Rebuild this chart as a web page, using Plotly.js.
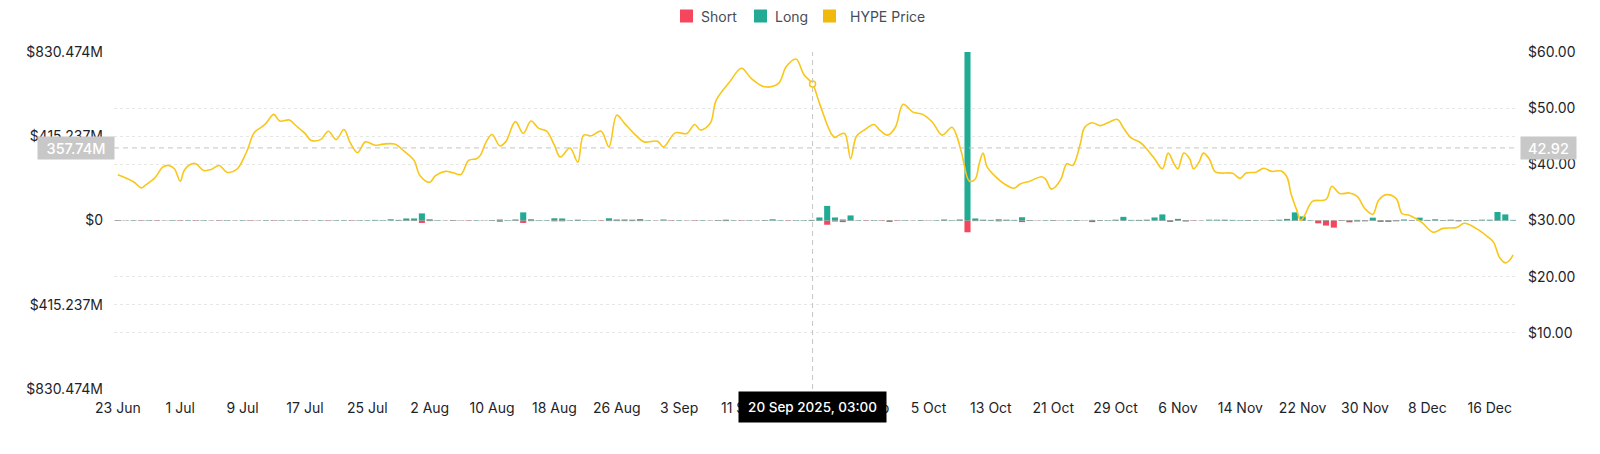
<!DOCTYPE html>
<html>
<head>
<meta charset="utf-8">
<script src="https://cdn.plot.ly/plotly-3.0.1.min.js"></script>
<style>html,body{margin:0;padding:0;background:#fff;}#chart{width:1600px;height:454px;}</style>
</head>
<body>
<div id="chart"></div>
<script>
// ---- Data ----
// Daily liquidations (millions USD), one value per day starting 23 Jun 2025
const barStart = '2025-06-23';
const longLiq = [
  2,1,2,1,2,1,1,2,1,2,
  1,2,1,1,2,1,2,1,1,2,
  1,2,1,2,1,1,2,1,2,2,
  1,2,2,3,2,6,3,10,10,35,
  6,2,1,2,1,1,2,1,2,5,
  2,5,40,6,2,2,11,10,2,4,
  2,2,1,11,5,5,4,7,2,1,
  5,1,2,1,1,2,1,2,4,2,
  1,2,1,2,6,2,1,2,2,3,
  15,72,15,5,25,2,1,2,1,2,
  1,2,1,2,1,2,5,2,5,830.474,
  10,4,3,6,4,3,16,2,1,2,
  2,1,2,2,1,3,2,2,4,18,
  3,3,4,15,30,2,8,2,1,1,
  4,4,4,3,2,2,2,1,2,4,
  8,40,20,2,1,2,1,2,2,3,
  2,14,2,2,2,5,2,14,3,6,
  2,4,2,2,2,4,4,42,30,3
];
const shortLiq = [
  2,1,1,2,1,2,1,1,2,1,
  2,1,1,2,1,1,1,2,1,1,
  2,1,1,1,2,1,1,2,1,1,
  2,1,1,1,1,1,2,2,2,12,
  3,1,1,2,1,2,1,1,2,6,
  1,2,12,3,1,1,4,4,1,2,
  1,1,2,3,3,3,3,3,1,1,
  1,2,1,1,2,1,1,2,3,1,
  2,1,1,2,1,1,2,1,1,2,
  2,21,5,8,2,1,2,1,2,7,
  2,1,1,2,1,1,2,1,2,58,
  3,2,2,4,2,1,8,2,1,1,
  2,1,1,2,1,8,2,1,2,2,
  1,2,2,1,2,7,2,5,2,1,
  1,1,2,1,1,2,1,1,2,1,
  1,2,2,1,14,25,35,2,9,5,
  4,2,7,7,4,1,2,1,2,1,
  2,2,4,1,2,1,1,2,1,1
];

// HYPE price samples
const priceDates = [
 '2025-06-23','2025-06-25','2025-06-26','2025-06-26 12:00','2025-06-27 18:00','2025-06-28 18:00','2025-06-29 12:00','2025-06-30 06:00',
 '2025-07-01','2025-07-01 12:00','2025-07-02 12:00','2025-07-03','2025-07-04','2025-07-05','2025-07-06','2025-07-07','2025-07-08 06:00',
 '2025-07-09 12:00','2025-07-10 12:00','2025-07-11 12:00','2025-07-12','2025-07-13','2025-07-13 18:00','2025-07-15','2025-07-15 18:00',
 '2025-07-17','2025-07-17 18:00','2025-07-19','2025-07-20','2025-07-21','2025-07-22','2025-07-22 18:00','2025-07-23 18:00','2025-07-24 18:00',
 '2025-07-26','2025-07-27','2025-07-28 12:00','2025-07-29 18:00','2025-07-31','2025-07-31 18:00','2025-08-02','2025-08-02 18:00',
 '2025-08-04','2025-08-05','2025-08-06','2025-08-07','2025-08-08','2025-08-08 12:00','2025-08-09 06:00','2025-08-10','2025-08-11',
 '2025-08-11 18:00','2025-08-13','2025-08-14','2025-08-15','2025-08-16','2025-08-17','2025-08-18','2025-08-18 18:00','2025-08-20',
 '2025-08-21','2025-08-21 18:00','2025-08-22 18:00','2025-08-24','2025-08-25','2025-08-26','2025-08-27','2025-08-28 12:00','2025-08-29 12:00',
 '2025-08-31 06:00','2025-09-01','2025-09-02 12:00','2025-09-04','2025-09-05','2025-09-05 18:00','2025-09-07','2025-09-07 18:00',
 '2025-09-09 12:00','2025-09-11','2025-09-12 06:00','2025-09-14','2025-09-15 18:00','2025-09-16 18:00','2025-09-18','2025-09-19',
 '2025-09-20 03:00','2025-09-21','2025-09-22 12:00','2025-09-23','2025-09-23 12:00','2025-09-24 06:00','2025-09-25','2025-09-25 18:00',
 '2025-09-26 18:00','2025-09-28','2025-09-28 18:00','2025-09-29 18:00','2025-09-30 18:00','2025-10-01 18:00','2025-10-03','2025-10-04 06:00',
 '2025-10-05 12:00','2025-10-06 18:00','2025-10-08','2025-10-08 12:00','2025-10-09 06:00','2025-10-10 06:00','2025-10-11','2025-10-11 12:00',
 '2025-10-12','2025-10-12 12:00','2025-10-13 12:00','2025-10-14 18:00','2025-10-16','2025-10-16 18:00','2025-10-18','2025-10-19 12:00',
 '2025-10-20','2025-10-20 18:00','2025-10-21 06:00','2025-10-22','2025-10-22 18:00','2025-10-23 12:00','2025-10-24 12:00','2025-10-25',
 '2025-10-26','2025-10-27','2025-10-28','2025-10-29 06:00','2025-10-30','2025-10-31','2025-11-01 06:00','2025-11-02 06:00','2025-11-03',
 '2025-11-04','2025-11-04 18:00','2025-11-05 12:00','2025-11-06','2025-11-06 18:00','2025-11-07 12:00','2025-11-08','2025-11-08 18:00',
 '2025-11-09 06:00','2025-11-10','2025-11-10 18:00','2025-11-11 12:00','2025-11-13','2025-11-14','2025-11-14 18:00','2025-11-16',
 '2025-11-17','2025-11-18','2025-11-19 06:00','2025-11-20','2025-11-20 12:00','2025-11-21 06:00','2025-11-21 18:00','2025-11-22 06:00',
 '2025-11-23 06:00','2025-11-25','2025-11-25 18:00','2025-11-26 18:00','2025-11-28','2025-11-29','2025-11-30','2025-12-01',
 '2025-12-01 18:00','2025-12-02 18:00','2025-12-04','2025-12-04 18:00','2025-12-05 18:00','2025-12-07 06:00','2025-12-08 18:00','2025-12-10',
 '2025-12-11 18:00','2025-12-12 18:00','2025-12-14 06:00','2025-12-15 18:00','2025-12-16 12:00','2025-12-17 06:00','2025-12-18','2025-12-18 12:00',
 '2025-12-19'
];
const priceValues = [
 38.15,36.9,35.8,36.25,37.6,39.5,39.8,39.2,
 37.0,38.9,40.1,40.1,38.9,39.1,39.8,38.6,39.1,
 42.2,45.65,46.7,47.3,48.9,47.7,47.9,47.0,
 45.5,44.3,44.4,45.9,44.4,46.2,44.0,42.1,44.0,
 43.4,43.6,43.6,42.3,40.7,38.0,36.8,38.0,
 38.75,38.5,38.2,40.7,41.0,41.6,44.0,45.3,43.3,
 44.0,47.6,45.5,47.7,46.4,45.9,43.4,41.3,42.9,
 40.4,45.2,45.1,45.9,43.1,48.75,47.3,45.1,44.0,
 44.1,43.1,45.6,45.5,47.1,46.1,47.3,51.4,
 54.7,57.1,55.3,53.8,54.4,57.4,58.75,56.0,
 54.3,50.9,45.5,44.8,45.2,45.5,41.0,45.0,
 46.1,47.1,46.1,45.2,46.6,50.7,49.3,48.9,
 47.5,45.2,46.6,45.5,42.0,37.0,37.4,40.1,
 42.0,39.6,37.95,36.5,35.75,36.5,37.0,37.8,
 37.4,35.6,35.95,37.4,40.1,39.8,43.8,46.5,
 47.4,46.9,47.4,48.0,46.5,44.7,43.8,42.3,41.0,
 39.2,42.0,40.1,39.2,42.0,41.0,39.2,40.5,
 42.0,41.0,38.7,38.45,38.4,37.5,38.45,38.6,
 39.3,38.75,38.8,37.7,34.8,31.8,30.0,30.9,
 33.4,33.75,36.1,34.8,34.9,34.3,32.1,31.1,
 33.6,34.6,33.9,31.25,30.9,29.7,27.9,28.6,
 28.75,29.5,28.6,27.1,26.1,23.45,22.45,22.85,
 23.9
];

// Axis ticks
const leftTickVals = [-830.474, -415.237, 0, 415.237, 830.474];
const leftTickText = ['$830.474M', '$415.237M', '$0', '$415.237M', '$830.474M'];
const rightTickVals = [10, 20, 30, 40, 50, 60];
const rightTickText = ['$10.00', '$20.00', '$30.00', '$40.00', '$50.00', '$60.00'];

// Legend entries
const legendNames = ['Short', 'Long', 'HYPE Price'];

// Hover state shown in the picture
const hoverDate = '2025-09-20 03:00';
const hoverLabel = '20 Sep 2025, 03:00';
const hoverLeftValue = 357.74;
const hoverRightValue = 42.92;

// ---- Styles ----
const RED = '#F6465D', TEAL = '#22AB94', GOLD = '#F0B90B', LINE = '#F8C71A';
const FONT = 'Inter, "Noto Sans", sans-serif';
const DAY = 86400000;
const legendColors = [RED, TEAL, GOLD];
const legendSquareX = [0.40805, 0.46080, 0.50998];   // paper positions of legend swatches
const legendTextX = [0.41768, 0.47042, 0.52388];
const legendY = 1.1068;

const hoverIdx = priceDates.indexOf(hoverDate);

const traces = [
  { type: 'bar', name: 'Short', x0: barStart, dx: DAY, y: shortLiq.map(v => -v),
    marker: { color: RED, line: { width: 0 } }, yaxis: 'y', hoverinfo: 'skip', showlegend: false },
  { type: 'bar', name: 'Long', x0: barStart, dx: DAY, y: longLiq,
    marker: { color: TEAL, line: { width: 0 } }, yaxis: 'y', hoverinfo: 'skip', showlegend: false },
  { type: 'scatter', mode: 'lines', name: 'HYPE Price', x: priceDates, y: priceValues,
    yaxis: 'y2', line: { color: LINE, width: 1.6, shape: 'spline', smoothing: 1 },
    showlegend: false, hoverinfo: 'skip' },
  { type: 'scatter', mode: 'markers', x: [priceDates[hoverIdx]], y: [priceValues[hoverIdx]],
    yaxis: 'y2', marker: { color: '#ffffff', size: 6, line: { color: LINE, width: 1.5 } },
    showlegend: false, hoverinfo: 'skip' }
];

const gridCommon = { gridcolor: '#e6e6e6', griddash: '3px,3px', gridwidth: 1, zeroline: false, showline: false };

const shapes = [
  { type: 'line', xref: 'x', yref: 'paper', x0: hoverDate, x1: hoverDate, y0: 0, y1: 1,
    line: { color: '#c4c4c4', width: 1, dash: '5px,4px' } },
  { type: 'line', xref: 'paper', yref: 'y', x0: 0, x1: 1, y0: hoverLeftValue, y1: hoverLeftValue,
    line: { color: '#c4c4c4', width: 1, dash: '5px,4px' } }
];
legendNames.forEach((n, i) => {
  shapes.push({ type: 'rect', xref: 'paper', yref: 'paper',
    xsizemode: 'pixel', ysizemode: 'pixel', xanchor: legendSquareX[i], yanchor: legendY,
    x0: -6.5, x1: 6.5, y0: -6.5, y1: 6.5, fillcolor: legendColors[i], line: { width: 0 } });
});

const annotations = [
  { xref: 'paper', yref: 'y', x: -0.0271, y: hoverLeftValue, xanchor: 'center', yanchor: 'middle',
    text: hoverLeftValue + 'M', showarrow: false, bgcolor: '#c8c8c8', width: 72, height: 18, borderpad: 2,
    font: { family: FONT, size: 14.5, color: '#ffffff', weight: 500 } },
  { xref: 'paper', yref: 'y2', x: 1.0224, y: hoverRightValue, xanchor: 'center', yanchor: 'middle',
    text: String(hoverRightValue), showarrow: false, bgcolor: '#c8c8c8', width: 51, height: 18, borderpad: 2,
    font: { family: FONT, size: 14.5, color: '#ffffff', weight: 500 } },
  { xref: 'x', yref: 'paper', x: hoverDate, y: -0.0534, xanchor: 'center', yanchor: 'middle',
    text: hoverLabel, showarrow: false, bgcolor: '#000000', width: 143, height: 26, borderpad: 2,
    font: { family: FONT, size: 13.5, color: '#ffffff', weight: 500 } }
];
legendNames.forEach((n, i) => {
  annotations.push({ xref: 'paper', yref: 'paper', x: legendTextX[i], y: legendY,
    xanchor: 'left', yanchor: 'middle', text: n, showarrow: false, borderpad: 0,
    font: { family: FONT, size: 14, color: '#474D57' } });
});

const layout = {
  width: 1600, height: 454,
  margin: { l: 114, r: 83, t: 52, b: 65, autoexpand: false },
  paper_bgcolor: '#ffffff', plot_bgcolor: '#ffffff',
  font: { family: FONT, size: 14, color: '#1E2329' },
  barmode: 'relative', bargap: 0.22,
  showlegend: false,
  xaxis: {
    type: 'date', range: ['2025-06-22 12:00', '2025-12-19 12:00'],
    tick0: barStart, dtick: 8 * DAY, tickformat: '%-d %b',
    showgrid: false, zeroline: false, showline: false, ticks: '', ticklabelstandoff: 9,
    tickfont: { family: FONT, size: 14, color: '#1E2329' }
  },
  yaxis: Object.assign({
    range: [-830.474, 830.474], tickmode: 'array', tickvals: leftTickVals, ticktext: leftTickText,
    ticks: '', ticklabelstandoff: 10, tickfont: { family: FONT, size: 14, color: '#1E2329' }
  }, gridCommon),
  yaxis2: Object.assign({
    overlaying: 'y', side: 'right', range: [0, 60], tickmode: 'array',
    tickvals: rightTickVals, ticktext: rightTickText, ticks: '', ticklabelstandoff: 10,
    tickfont: { family: FONT, size: 14, color: '#1E2329' }
  }, gridCommon),
  shapes: shapes,
  annotations: annotations
};

Plotly.newPlot('chart', traces, layout, { displayModeBar: false, staticPlot: true });
</script>
</body>
</html>
